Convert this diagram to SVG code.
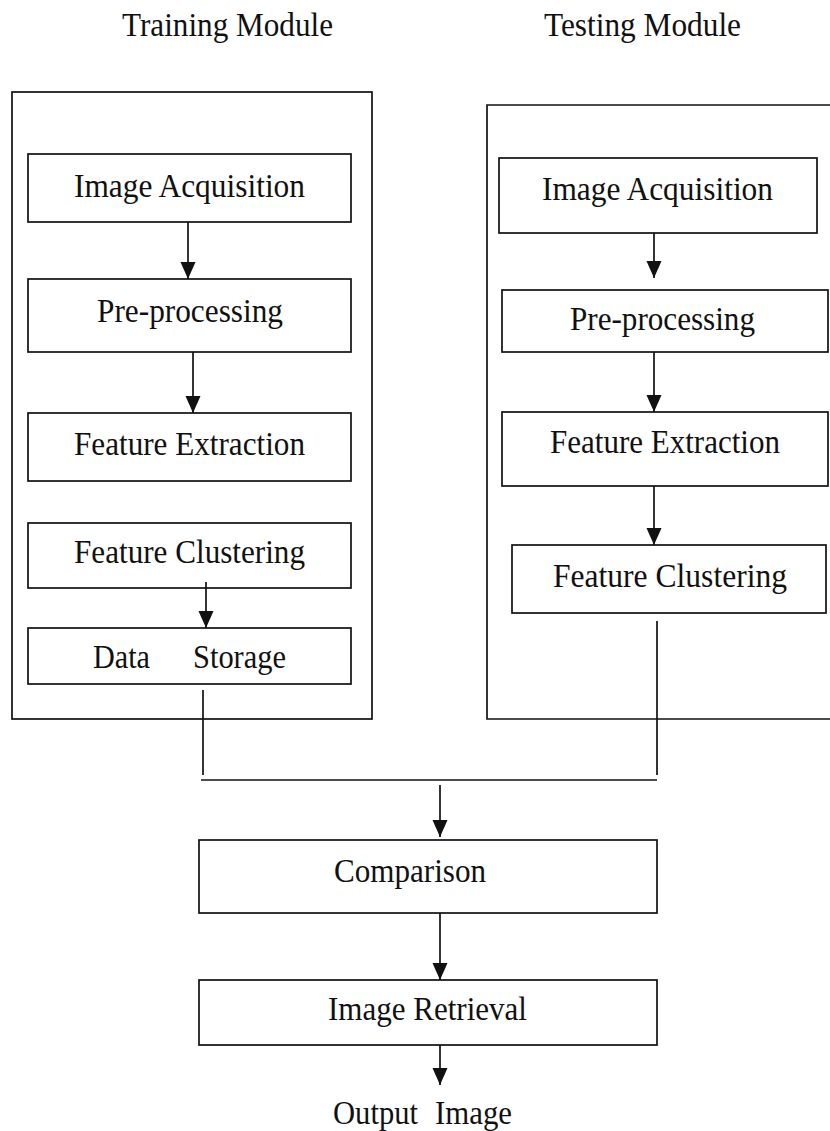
<svg xmlns="http://www.w3.org/2000/svg" width="830" height="1131" viewBox="0 0 830 1131">
<style>
.box{fill:#fff;stroke:#111;stroke-width:1.7}
.frame{fill:none;stroke:#111;stroke-width:1.7}
.con{fill:none;stroke:#111;stroke-width:1.7}
text{font-family:"Liberation Serif","Times New Roman",serif;font-size:33px;fill:#111}
</style>
<defs>
<marker id="ah" markerUnits="userSpaceOnUse" markerWidth="18" markerHeight="16" refX="17" refY="7.5" orient="auto">
<path d="M0,0 L17,7.5 L0,15 z" fill="#111"/>
</marker>
</defs>
<rect width="830" height="1131" fill="#fff"/>
<text x="122" y="36" textLength="211" lengthAdjust="spacingAndGlyphs">Training Module</text>
<text x="544" y="36" textLength="197" lengthAdjust="spacingAndGlyphs">Testing Module</text>
<g id="training-module"><rect class="frame" x="12" y="92" width="360" height="627"/></g>
<g id="testing-module"><path class="frame" d="M832,105 H487 V719 H832"/></g>
<g id="tr-acq"><rect class="box" x="28" y="154" width="323" height="68"/><text x="74" y="197" textLength="231" lengthAdjust="spacingAndGlyphs">Image Acquisition</text></g>
<g id="tr-pre"><rect class="box" x="28" y="279" width="323" height="73"/><text x="97" y="322" textLength="186" lengthAdjust="spacingAndGlyphs">Pre-processing</text></g>
<g id="tr-fe"><rect class="box" x="28" y="413" width="323" height="68"/><text x="74" y="455" textLength="231" lengthAdjust="spacingAndGlyphs">Feature Extraction</text></g>
<g id="tr-fc"><rect class="box" x="28" y="523" width="323" height="65"/><text x="74" y="563" textLength="231" lengthAdjust="spacingAndGlyphs">Feature Clustering</text></g>
<g id="tr-ds"><rect class="box" x="28" y="628" width="323" height="56"/><text x="93" y="668" textLength="57" lengthAdjust="spacingAndGlyphs">Data</text><text x="193" y="668" textLength="93" lengthAdjust="spacingAndGlyphs">Storage</text></g>
<g id="te-acq"><rect class="box" x="499" y="158" width="318" height="75"/><text x="542" y="200" textLength="231" lengthAdjust="spacingAndGlyphs">Image Acquisition</text></g>
<g id="te-pre"><rect class="box" x="502" y="290" width="326" height="62"/><text x="570" y="330" textLength="185" lengthAdjust="spacingAndGlyphs">Pre-processing</text></g>
<g id="te-fe"><rect class="box" x="502" y="412" width="326" height="74"/><text x="550" y="453" textLength="230" lengthAdjust="spacingAndGlyphs">Feature Extraction</text></g>
<g id="te-fc"><rect class="box" x="512" y="545" width="314" height="68"/><text x="553" y="587" textLength="234" lengthAdjust="spacingAndGlyphs">Feature Clustering</text></g>
<g id="comparison"><rect class="box" x="199" y="840" width="458" height="73"/><text x="334" y="882" textLength="152" lengthAdjust="spacingAndGlyphs">Comparison</text></g>
<g id="retrieval"><rect class="box" x="199" y="980" width="458" height="65"/><text x="328" y="1020" textLength="199" lengthAdjust="spacingAndGlyphs">Image Retrieval</text></g>
<g id="output"><text x="333" y="1124" textLength="85" lengthAdjust="spacingAndGlyphs">Output</text><text x="435" y="1124" textLength="77" lengthAdjust="spacingAndGlyphs">Image</text></g>
<g id="connectors">
<line class="con" x1="188" y1="222" x2="188" y2="279" marker-end="url(#ah)"/>
<line class="con" x1="193" y1="352" x2="193" y2="413" marker-end="url(#ah)"/>
<line class="con" x1="206" y1="582" x2="206" y2="628" marker-end="url(#ah)"/>
<line class="con" x1="203" y1="690" x2="203" y2="775"/>
<line class="con" x1="654" y1="233" x2="654" y2="278" marker-end="url(#ah)"/>
<line class="con" x1="654" y1="352" x2="654" y2="412" marker-end="url(#ah)"/>
<line class="con" x1="654" y1="486" x2="654" y2="545" marker-end="url(#ah)"/>
<line class="con" x1="657" y1="621" x2="657" y2="775"/>
<line class="con" x1="201" y1="780" x2="657" y2="780"/>
<line class="con" x1="440" y1="785" x2="440" y2="837" marker-end="url(#ah)"/>
<line class="con" x1="440" y1="913" x2="440" y2="980" marker-end="url(#ah)"/>
<line class="con" x1="440" y1="1045" x2="440" y2="1085" marker-end="url(#ah)"/>
</g>
</svg>
